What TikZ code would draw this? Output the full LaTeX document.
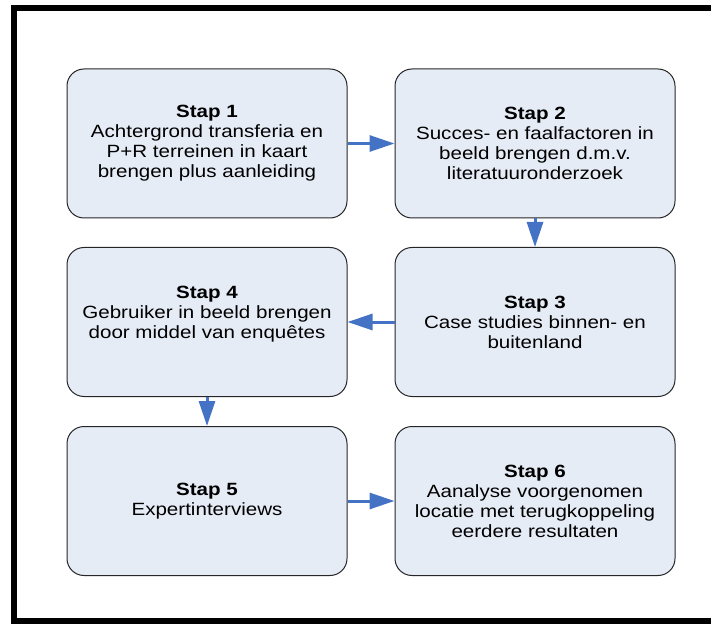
\documentclass[tikz,border=0pt]{standalone}
\usepackage{fontspec}
\setmainfont{Liberation Sans}[FakeStretch=1.16]
\usetikzlibrary{arrows.meta}

\definecolor{boxfill}{RGB}{230,236,246}
\definecolor{arrowblue}{RGB}{68,114,196}

\tikzset{every picture/.style={line width=0.75pt}}
\tikzset{
  stapbox/.style={draw=black!85, fill=boxfill, rounded corners=12.75pt,
    minimum width=210pt, minimum height=111.75pt, align=center,
    inner sep=0pt, font=\fontsize{13.3}{15}\selectfont},
  stappijl/.style={draw=arrowblue, line width=2.25pt,
    -{Triangle[length=18.75pt,width=12pt]}}
}

\begin{document}
\begin{tikzpicture}[x=0.75pt,y=0.75pt,yscale=-1,xscale=1]
\useasboundingbox (0,0) rectangle (711,624);
\clip (0,0) rectangle (711,624);

%Shape: Rectangle (outer frame)
\draw [line width=4.5pt] (14,8) -- (730,8) -- (730,621) -- (14,621) -- cycle ;

%Rounded Rect: Stap 1
\node [stapbox] (stap1) at (207,143.5) {\textbf{Stap 1}\\Achtergrond transferia en\\P+R terreinen in kaart\\brengen plus aanleiding};
%Rounded Rect: Stap 2
\node [stapbox] (stap2) at (535,143.5) {\textbf{Stap 2}\\Succes- en faalfactoren in\\beeld brengen d.m.v.\\literatuuronderzoek};
%Rounded Rect: Stap 3
\node [stapbox] (stap3) at (535,322) {\textbf{Stap 3}\\Case studies binnen- en\\buitenland};
%Rounded Rect: Stap 4
\node [stapbox] (stap4) at (207,322) {\textbf{Stap 4}\\Gebruiker in beeld brengen\\door middel van enquêtes\\\mbox{}};
%Rounded Rect: Stap 5
\node [stapbox] (stap5) at (207,501) {\textbf{Stap 5}\\Expertinterviews};
%Rounded Rect: Stap 6
\node [stapbox] (stap6) at (535,501) {\textbf{Stap 6}\\Aanalyse voorgenomen\\locatie met terugkoppeling\\eerdere resultaten};

% Arrows
\draw [stappijl] (stap1.east) -- (stap2.west) ;
\draw [stappijl] (stap2.south) -- (stap3.north) ;
\draw [stappijl] (stap3.west) -- (stap4.east) ;
\draw [stappijl] (stap4.south) -- (stap5.north) ;
\draw [stappijl] (stap5.east) -- (stap6.west) ;

\end{tikzpicture}
\end{document}
